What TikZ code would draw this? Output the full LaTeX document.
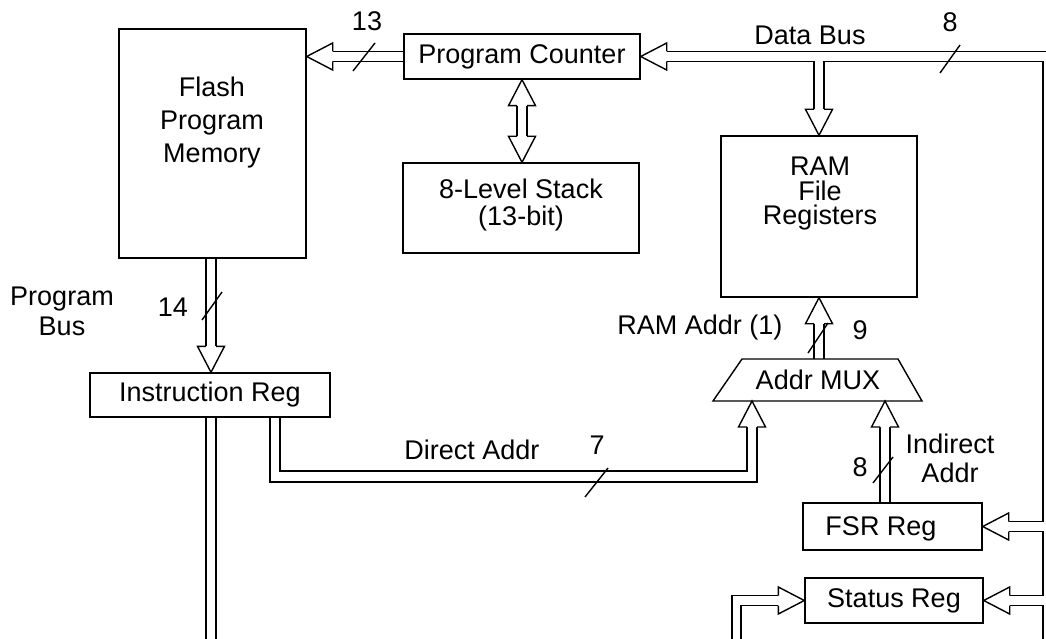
\documentclass[tikz,border=0pt]{standalone}
\usepackage{fontspec}
\setmainfont{Liberation Sans}
\usetikzlibrary{calc}
\begin{document}
\begin{tikzpicture}[x=1pt,y=-1pt,
  every node/.style={font=\fontsize{27}{32}\selectfont, inner sep=0pt},
  box/.style={draw, line width=1.4pt, rectangle},
  bus/.style={line width=1.4pt, line join=miter},
  tick/.style={line width=1.4pt},
  hd/.pic={\filldraw[fill=white, line width=1.4pt, line join=miter]
     (-26,-5) -- (-26,-13.5) -- (0,0) -- (-26,13.5) -- (-26,5);}]
\useasboundingbox (0,0) rectangle (1046,639);
% ---- boxes
\node[box, minimum width=187pt, minimum height=229pt] (flash) at (212.5,143.5) {};
\node[align=center, font=\fontsize{27}{33}\selectfont] (flashtxt) at (212,123) {Flash\\Program\\Memory};
\node[box, minimum width=236pt, minimum height=45pt] (pc) at (522,56.5) {Program Counter};
\node[box, minimum width=236pt, minimum height=90pt] (stack) at (521,208) {};
\node[align=center, font=\fontsize{27}{27}\selectfont] (stacktxt) at (521,205) {8-Level Stack\\(13-bit)};
\node[box, minimum width=196pt, minimum height=161pt] (ram) at (819,216.5) {};
\node[align=center, font=\fontsize{27}{24.5}\selectfont] (ramtxt) at (820,194) {RAM\\File\\Registers};
\node[box, minimum width=240pt, minimum height=44pt] (ir) at (210,395) {Instruction Reg};
\node[box, minimum width=179pt, minimum height=47pt] (fsr) at (892.5,526.5) {};
\node (fsrtxt) at (881,529) {FSR Reg};
\node[box, minimum width=178pt, minimum height=45pt] (status) at (894,600.5) {Status Reg};
% ---- address mux
\coordinate (mBL) at (713,401);
\coordinate (mTL) at (742,359);
\coordinate (mTR) at (898,359);
\coordinate (mBR) at (922,401);
\draw[bus] (mBL) -- (mTL) -- (mTR) -- (mBR) -- cycle;
\node (mux) at (818,380) {Addr MUX};
\coordinate (mout) at (819,359);
\coordinate (mdin) at (752,401);
\coordinate (miin) at (885,401);
% ---- helper coordinates
\coordinate (vx) at (1043,0);
\coordinate (sl) at (736.5,0);
\coordinate (pbx) at (211,0);
\coordinate (dax) at (275,0);
\coordinate (rj) at (ram.north |- pc.east);
\coordinate (pcf) at (flash.east |- pc.west);
% ---- PC -> Flash
\draw[bus] ($(pc.west)+(0,-5)$) -- ($(pcf)+(26,-5)$);
\draw[bus] ($(pc.west)+(0,5)$) -- ($(pcf)+(26,5)$);
\pic[rotate=180] at (pcf) {hd};
% ---- Data bus
\draw[bus] ($(pc.east)+(26,-5)$) -- (1052,51.5);
\draw[bus] ($(pc.east)+(26,5)$) -- ($(rj)+(-5,5)$) -- ($(ram.north)+(-5,-26)$);
\draw[bus] ($(ram.north)+(5,-26)$) -- ($(rj)+(5,5)$) -- ($(vx |- rj)+(0,5)$)
   -- ($(vx |- fsr.east)+(0,-5)$) -- ($(fsr.east)+(26,-5)$);
\draw[bus] ($(fsr.east)+(26,5)$) -- ($(vx |- fsr.east)+(0,5)$)
   -- ($(vx |- status.east)+(0,-5)$) -- ($(status.east)+(26,-5)$);
\draw[bus] ($(status.east)+(26,5)$) -- ($(vx |- status.east)+(0,5)$) -- (1043,645);
\pic[rotate=180] at (pc.east) {hd};
\pic[rotate=-90] at (ram.north) {hd};
\pic[rotate=180] at (fsr.east) {hd};
\pic[rotate=180] at (status.east) {hd};
% ---- into Status Reg from left
\draw[bus] ($(status.west)+(-26,-5)$) -- ($(sl |- status.west)+(-4.5,-5)$) -- (732,645);
\draw[bus] ($(status.west)+(-26,5)$) -- ($(sl |- status.west)+(4.5,5)$) -- (741,645);
\pic at (status.west) {hd};
% ---- PC <-> Stack
\draw[bus] ($(pc.south)+(-5,26)$) -- ($(pc.south |- stack.north)+(-5,-26)$);
\draw[bus] ($(pc.south)+(5,26)$) -- ($(pc.south |- stack.north)+(5,-26)$);
\pic[rotate=90] at (pc.south) {hd};
\pic[rotate=-90] at (pc.south |- stack.north) {hd};
% ---- Program bus
\draw[bus] ($(pbx |- flash.south)+(-5,0)$) -- ($(pbx |- ir.north)+(-5,-26)$);
\draw[bus] ($(pbx |- flash.south)+(5,0)$) -- ($(pbx |- ir.north)+(5,-26)$);
\pic[rotate=-90] at (pbx |- ir.north) {hd};
\draw[bus] ($(pbx |- ir.south)+(-5,0)$) -- (206,645);
\draw[bus] ($(pbx |- ir.south)+(5,0)$) -- (216,645);
% ---- Direct address
\draw[bus] ($(dax |- ir.south)+(-5,0)$) -- (270,482) -- (757,482) -- ($(mdin)+(5,26)$);
\draw[bus] ($(dax |- ir.south)+(5,0)$) -- (280,471) -- (747,471) -- ($(mdin)+(-5,26)$);
\pic[rotate=90] at (mdin) {hd};
% ---- MUX -> RAM
\draw[bus] ($(mout)+(-5,0)$) -- ($(ram.south)+(-5,26)$);
\draw[bus] ($(mout)+(5,0)$) -- ($(ram.south)+(5,26)$);
\pic[rotate=90] at (ram.south) {hd};
% ---- FSR -> MUX
\draw[bus] ($(miin |- fsr.north)+(-5,0)$) -- ($(miin)+(-5,26)$);
\draw[bus] ($(miin |- fsr.north)+(5,0)$) -- ($(miin)+(5,26)$);
\pic[rotate=90] at (miin) {hd};
% ---- bus width ticks
\draw[tick] (353,71) -- (375,43);
\draw[tick] (940,73) -- (960,45);
\draw[tick] (202,320) -- (222,292);
\draw[tick] (808,353) -- (828,323);
\draw[tick] (873,483) -- (893,457);
\draw[tick] (585,497) -- (608,468);
% ---- labels
\node (l13) at (367,21) {13};
\node (ldb) at (810,35) {Data Bus};
\node (l8a) at (950,22) {8};
\node[align=center, font=\fontsize{27}{30}\selectfont] (lpb) at (62,311) {Program\\Bus};
\node (l14) at (173,307) {14};
\node (lra) at (700,328) {RAM Addr (1)};
\node (l9) at (860,330) {9};
\node (lda) at (472,450) {Direct Addr};
\node (l7) at (597,445) {7};
\node (l8b) at (860,467) {8};
\node[align=center, font=\fontsize{27}{29}\selectfont] (lia) at (950,458) {Indirect\\Addr};
\end{tikzpicture}
\end{document}
